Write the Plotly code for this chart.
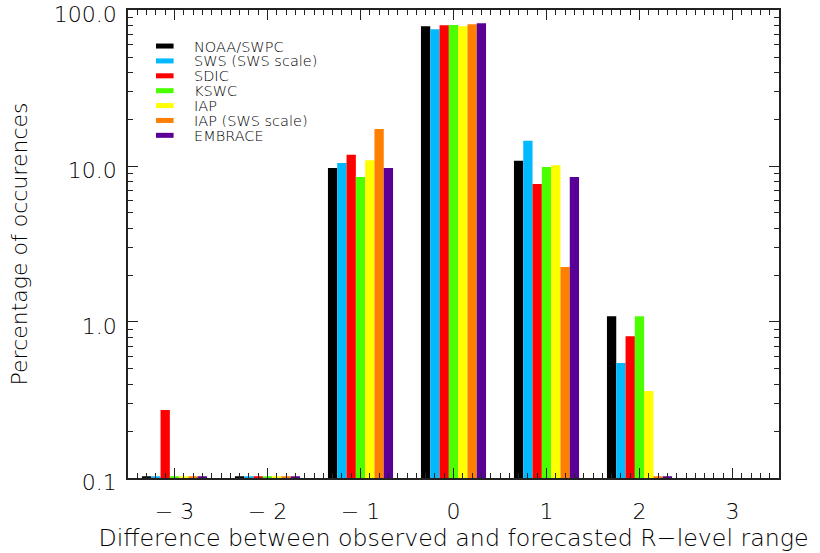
import numpy as np
import plotly.graph_objects as go

# R-level difference (observed minus forecasted)
levels = [-3, -2, -1, 0, 1, 2, 3]

# Percentage of occurrences per forecasting centre (None = no entry)
noaa_swpc = [0.0, 0.0, 9.7, 78.7, 10.8, 1.09, None]
sws_sws = [0.0, 0.0, 10.45, 75.2, 14.5, 0.546, None]
sdic = [0.273, 0.0, 11.8, 79.9, 7.67, 0.81, None]
kswc = [0.0, 0.0, 8.5, 80.2, 9.86, 1.09, None]
iap = [0.0, 0.0, 10.9, 78.7, 10.1, 0.361, None]
iap_sws = [0.0, 0.0, 17.3, 81.0, 2.25, 0.0, None]
embrace = [0.0, 0.0, 9.7, 82.2, 8.5, 0.0, None]

names = ["NOAA/SWPC", "SWS (SWS scale)", "SDIC", "KSWC", "IAP",
         "IAP (SWS scale)", "EMBRACE"]
series = [noaa_swpc, sws_sws, sdic, kswc, iap, iap_sws, embrace]
colors = ["#000000", "#00B9FF", "#FF0000", "#4CFF00", "#FFFF00",
          "#FF7F00", "#5A0096"]

y_ticks = [0.1, 1, 10, 100]
y_ticktext = ["0.1", "1.0", "10.0", "100.0"]
y_minor = [m * d for d in (0.1, 1, 10) for m in range(2, 10)]

# zero counts are drawn as a hairline sitting on the lower axis
FLOOR = 10 ** (-1 + 1.6 / 156)

FONT = "DejaVu Sans"
TXT = "#000000"


def font(size):
    return dict(family=FONT, size=size, color=TXT, weight=300)


fig = go.Figure()
for name, vals, col in zip(names, series, colors):
    y = [None if v is None else (v if v > 0 else FLOOR) for v in vals]
    fig.add_trace(go.Bar(x=levels, y=y, name=name, marker_color=col,
                         marker_line_width=0, showlegend=False,
                         hovertext=[None if v is None else f"{v}" for v in vals]))

# legend drawn as short thick line samples with labels
row0, dy = 0.923, 0.0318
for i, (name, col) in enumerate(zip(names, colors)):
    yy = row0 - i * dy
    fig.add_shape(type="line", xref="x domain", yref="y domain",
                  x0=0.043, x1=0.070, y0=yy, y1=yy,
                  line=dict(color=col, width=5))
    fig.add_annotation(xref="x domain", yref="y domain", x=0.099, y=yy,
                       text=name, showarrow=False, xanchor="left",
                       yanchor="middle", height=13, font=font(14.5))

fig.update_layout(
    width=820, height=553,
    margin=dict(l=128, r=41, t=10, b=75),
    paper_bgcolor="white", plot_bgcolor="white",
    barmode="group", bargap=0.3, bargroupgap=0,
    font=font(22),
)
fig.update_xaxes(
    range=[-3.5, 3.5], tickvals=levels,
    ticktext=[str(v).replace("-", "\u2212 ") for v in levels],
    tickfont=font(22), automargin="bottom",
    ticks="inside", ticklen=10, tickwidth=1, tickcolor="#222",
    minor=dict(ticks="inside", ticklen=5, dtick=0.1, tickwidth=1,
               tickcolor="#222"),
    showline=True, linecolor="#222", linewidth=1.5, mirror="ticks",
    showgrid=False, zeroline=False, ticklabelstandoff=13,
    title=dict(text="Difference between observed and forecasted R\u2212level range",
               standoff=2, font=font(23.7)),
)
fig.update_yaxes(
    type="log", range=[-1.0003, 2.0003], tickvals=y_ticks, ticktext=y_ticktext,
    tickfont=font(22), ticklabeloverflow="allow", automargin="left",
    ticklabelshift=4,
    ticks="inside", ticklen=10, tickwidth=1, tickcolor="#222",
    minor=dict(ticks="inside", ticklen=5, tickvals=y_minor, tickwidth=1,
               tickcolor="#222"),
    showline=True, linecolor="#222", linewidth=1.5, mirror="ticks",
    showgrid=False, zeroline=False, ticklabelstandoff=5,
    title=dict(text="Percentage of occurences", standoff=20, font=font(22)),
)

fig.write_html("out.html")
